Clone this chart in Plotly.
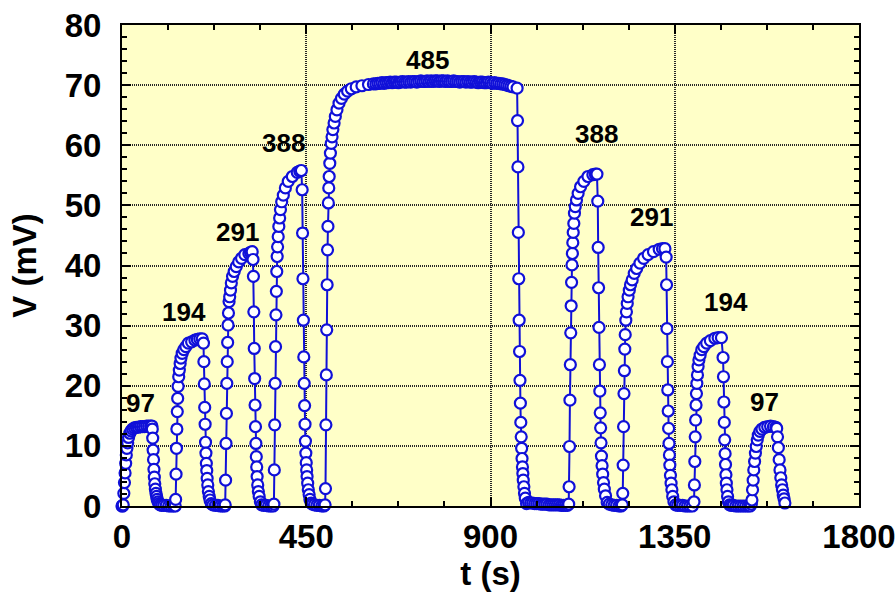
import plotly.graph_objects as go

# ---- data: t (s), V (mV) ----
# pulse 1 (97)
t1 = [0, 1.5, 3, 4.5, 6, 7.5, 9, 10.5, 12, 14, 16, 19, 22, 26, 30, 35, 40, 45, 50, 55, 60, 65, 70, 73,
      74, 75, 76, 77, 78, 79, 80, 81.5, 83, 84.5, 86, 88, 90, 93,
      97, 102, 108, 114, 120, 126, 130]
v1 = [0, 0, 0.2, 2.1, 3.9, 5.5, 7.1, 8.5, 9.6, 10.5, 11.4, 12.1, 12.5, 12.8, 13.0, 13.1, 13.1, 13.2, 13.2, 13.2, 13.3, 13.3, 13.3, 13.3,
      12.8, 11.3, 9.3, 7.7, 6.1, 4.8, 3.7, 2.8, 2.1, 1.6, 1.1, 0.7, 0.4, 0.2,
      0.1, 0.1, 0.1, 0.0, 0.0, 0.0, 0.0]
# pulse 2 (194)
t2 = [131, 132, 133, 134, 135, 136, 137, 138.5, 140, 142, 144, 147, 151, 156, 162, 170, 178, 184, 190, 196,
      199, 200, 201, 202, 203, 204, 205, 206, 207, 208, 209.5, 211, 213, 215, 218,
      222, 228, 234, 240, 246, 251]
v2 = [1.1, 5.3, 9.6, 12.8, 15.7, 17.9, 19.9, 21.5, 22.6, 23.7, 24.6, 25.4, 26.0, 26.5, 27.1, 27.3, 27.6, 27.7, 27.8, 27.8,
      27.1, 24.0, 20.3, 16.4, 13.6, 10.6, 8.8, 7.1, 5.9, 4.6, 3.5, 2.4, 1.6, 1.0, 0.4,
      0.2, 0.1, 0.1, 0.0, 0.0, 0.0]
# pulse 3 (291)
t3 = [252, 253, 254, 255, 256, 257, 258, 259, 260, 261.5, 263, 265, 267, 270, 274, 279, 285, 292, 300, 310, 314, 318,
      320, 321, 322, 323, 324, 325, 326, 327, 328, 329, 330, 331.5, 333, 335, 338, 341,
      346, 352, 358, 364, 369]
v3 = [0.2, 4.3, 10.4, 15.4, 20.4, 24.0, 27.2, 30.1, 32.1, 34.0, 34.8, 35.9, 37.1, 38.2, 39.0, 39.8, 40.6, 41.2, 41.8, 42.0, 42.2, 42.3,
      41.0, 38.2, 32.3, 26.2, 21.2, 16.8, 13.2, 10.4, 8.2, 6.5, 4.9, 3.5, 2.4, 1.6, 0.7, 0.2,
      0.1, 0.1, 0.0, 0.0, 0.0]
# pulse 4 (388)
t4 = [371, 372, 373, 374, 375, 376, 377, 378, 379, 380, 381.5, 383, 385, 387, 390, 394, 399, 406, 416, 428, 434, 438,
      440, 441, 442, 443, 444, 445, 446, 447, 448, 449, 450, 451, 452, 453.5, 455, 457, 459, 462, 465,
      470, 476, 482, 488, 493]
v4 = [0.3, 6.0, 13.5, 20.4, 26.5, 31.8, 35.7, 39.0, 41.5, 43.1, 44.8, 46.5, 47.9, 49.3, 50.6, 51.7, 52.9, 54.0, 54.8, 55.5, 55.7, 55.8,
      52.6, 45.4, 37.8, 30.9, 24.8, 20.4, 16.7, 13.6, 10.8, 8.8, 7.2, 6.0, 4.9, 3.8, 2.7, 1.9, 1.1, 0.5, 0.3,
      0.2, 0.1, 0.1, 0.0, 0.0]
# pulse 5 (485)
t5 = [496, 497, 498, 499, 500, 501, 502, 503, 504, 505, 506, 507.5, 509, 511, 513, 515, 518, 521, 525, 530,
      536, 543, 551, 560, 572, 586, 602, 614,
      620, 625, 630, 635, 640, 645, 650, 655, 660, 665,
      670, 675, 680, 685, 690, 695, 700, 705, 710, 715,
      720, 725, 730, 735, 740, 745, 750, 755, 760, 765,
      770, 775, 780, 785, 790, 795, 800, 805, 810, 815,
      820, 825, 830, 835, 840, 845, 850, 855, 860, 865,
      870, 875, 880, 885, 890, 895, 900, 905, 910, 915,
      920, 925, 930, 935, 940, 945, 950, 955,
      965, 966, 967, 968, 969, 970, 971, 972, 973, 974, 975, 976, 977, 978, 979, 980, 981.5, 983, 985, 988,
      993, 998, 1003, 1008, 1013, 1018, 1023, 1028, 1033, 1038,
      1043, 1048, 1053, 1058, 1063, 1068, 1073, 1078, 1083, 1088]
v5 = [0.2, 2.9, 13.5, 21.8, 29.3, 36.8, 42.6, 46.5, 50.4, 52.9, 54.8, 57.0, 58.7, 60.3, 61.4, 62.6, 63.7, 64.8, 65.9, 67.0,
      67.8, 68.5, 69.0, 69.4, 69.7, 69.9, 70.1, 70.2,
      70.2, 70.3, 70.3, 70.4, 70.3, 70.4, 70.4, 70.5, 70.4, 70.5,
      70.5, 70.4, 70.5, 70.6, 70.5, 70.5, 70.6, 70.5, 70.6, 70.6,
      70.5, 70.6, 70.7, 70.6, 70.6, 70.7, 70.6, 70.7, 70.6, 70.7,
      70.7, 70.6, 70.7, 70.7, 70.6, 70.7, 70.6, 70.6, 70.7, 70.6,
      70.6, 70.5, 70.6, 70.6, 70.5, 70.6, 70.5, 70.5, 70.6, 70.5,
      70.4, 70.5, 70.5, 70.4, 70.4, 70.5, 70.4, 70.3, 70.4, 70.3,
      70.3, 70.2, 70.2, 70.1, 70.0, 69.9, 69.8, 69.7,
      69.5, 64.1, 56.4, 45.5, 37.8, 30.9, 25.7, 20.9, 17.1, 13.9, 11.5, 9.6, 7.9, 6.5, 5.4, 4.3, 3.2, 2.1, 1.3, 0.4,
      0.6, 0.5, 0.5, 0.4, 0.4, 0.4, 0.3, 0.3, 0.3, 0.3,
      0.2, 0.2, 0.2, 0.2, 0.2, 0.2, 0.1, 0.1, 0.1, 0.1]
# pulse 6 (388)
t6 = [1091, 1092, 1093, 1094, 1095, 1096, 1097, 1098, 1099, 1100, 1101, 1102, 1103.5, 1105, 1107, 1110, 1114, 1120, 1128, 1138, 1150, 1156, 1160,
      1162, 1163, 1164, 1165, 1166, 1167, 1168, 1169, 1170, 1171, 1172.5, 1174, 1176, 1178, 1181, 1185,
      1190, 1196, 1202, 1208, 1214, 1219]
v6 = [0.3, 3.2, 9.9, 17.6, 23.5, 28.8, 33.3, 37.2, 40.1, 42.0, 43.8, 45.5, 47.0, 48.7, 49.8, 50.9, 52.0, 53.1, 54.0, 54.8, 55.1, 55.2, 55.2,
      50.7, 43.0, 36.3, 29.7, 23.5, 19.1, 15.5, 13.0, 10.5, 8.3, 6.7, 5.3, 3.9, 2.8, 1.7, 0.6,
      0.3, 0.2, 0.1, 0.1, 0.0, 0.0]
# pulse 7 (291)
t7 = [1222, 1223, 1224, 1225, 1226, 1227, 1228, 1229, 1230.5, 1232, 1234, 1236, 1239, 1242, 1246, 1251, 1257, 1265, 1274, 1285, 1298, 1312, 1320, 1326,
      1329, 1330, 1331, 1332, 1333, 1334, 1335, 1336, 1337, 1338, 1339.5, 1341, 1343, 1345, 1348, 1352,
      1357, 1363, 1369, 1375, 1381, 1387, 1393]
v7 = [0.2, 2.1, 6.8, 13.2, 18.7, 22.5, 26.1, 28.5, 30.9, 32.3, 33.7, 34.8, 35.9, 36.8, 37.6, 38.7, 39.5, 40.4, 41.2, 41.8, 42.3, 42.7, 42.8, 42.8,
      41.4, 36.8, 29.5, 24.0, 19.3, 15.8, 12.9, 10.4, 8.5, 6.8, 5.1, 3.8, 2.7, 1.6, 0.7, 0.2,
      0.1, 0.1, 0.1, 0.0, 0.0, 0.0, 0.0]
# pulse 8 (194)
t8 = [1397, 1398, 1399, 1400, 1401, 1402, 1403, 1404, 1405.5, 1407, 1409, 1412, 1416, 1421, 1428, 1437, 1448, 1456, 1464,
      1468, 1469, 1470, 1471, 1472, 1473, 1474, 1475, 1476, 1477.5, 1479, 1481, 1484, 1488,
      1493, 1499, 1505, 1511, 1517, 1523, 1529, 1534]
v8 = [0.7, 3.5, 7.4, 11.5, 14.3, 16.8, 18.7, 20.4, 21.8, 23.2, 24.3, 25.1, 26.0, 26.5, 27.1, 27.5, 27.9, 28.0, 28.0,
      24.7, 21.5, 17.3, 13.9, 11.0, 8.7, 6.9, 5.2, 3.8, 2.7, 1.6, 0.7, 0.2, 0.1,
      0.1, 0.0, 0.0, 0.0, 0.0, 0.0, 0.0, 0.0]
# pulse 9 (97)
t9 = [1537, 1538.5, 1540, 1541.5, 1543, 1545, 1547, 1549, 1551.5, 1554, 1558, 1563, 1570, 1577, 1584, 1591, 1597,
      1599, 1601, 1603, 1605, 1607, 1609, 1611, 1613, 1615, 1617, 1619]
v9 = [0.3, 1.0, 2.7, 4.3, 6.0, 7.4, 8.8, 9.9, 11.0, 11.8, 12.4, 12.8, 13.1, 13.2, 13.3, 13.2, 13.1,
      12.9, 11.5, 9.7, 7.7, 6.0, 4.7, 3.5, 2.7, 1.8, 1.2, 0.5]

# pulse labels
label_text = ["97", "194", "291", "388", "485", "388", "291", "194", "97"]
label_t = [45, 151, 281, 394, 746, 1159, 1293, 1474, 1568]
label_v = [17.1, 32.3, 45.6, 60.4, 74.2, 61.9, 48.1, 33.9, 17.3]

x_ticks = [0, 450, 900, 1350, 1800]
y_ticks = [0, 10, 20, 30, 40, 50, 60, 70, 80]

t_all = t1 + t2 + t3 + t4 + t5 + t6 + t7 + t8 + t9
v_all = v1 + v2 + v3 + v4 + v5 + v6 + v7 + v8 + v9

BLUE = "#1010D8"
FONT = "Liberation Sans, Arial, sans-serif"

fig = go.Figure(go.Scatter(
    x=t_all, y=v_all, mode="lines+markers",
    line=dict(color=BLUE, width=2),
    marker=dict(size=11, color="white", line=dict(color=BLUE, width=2.2)),
    cliponaxis=False, showlegend=False,
))

for txt, tx, vy in zip(label_text, label_t, label_v):
    fig.add_annotation(x=tx, y=vy, text=txt, showarrow=False,
                       font=dict(family=FONT, size=26, color="black", weight="bold"))

axis_common = dict(
    showline=True, linecolor="black", linewidth=2, mirror="allticks",
    ticks="inside", ticklen=9, tickwidth=1.5, tickcolor="black",
    showgrid=True, gridcolor="#262626", griddash="1px,1px", gridwidth=2,
    zeroline=False, automargin=False, ticklabeloverflow="allow",
    tickfont=dict(family=FONT, size=33, color="black", weight="bold"),
)

fig.update_layout(
    width=895, height=596,
    margin=dict(l=122, r=36, t=25, b=90),
    paper_bgcolor="white", plot_bgcolor="#FFFFC8",
    xaxis=dict(range=[0, 1800], tickvals=x_ticks,
               minor=dict(ticks="inside", dtick=112.5, ticklen=5, tickcolor="black", showgrid=False),
               title=dict(text="t (s)", standoff=4,
                          font=dict(family=FONT, size=33, color="black", weight="bold")),
               **axis_common),
    yaxis=dict(range=[0, 80], tickvals=y_ticks, ticklabelstandoff=12,
               minor=dict(ticks="inside", dtick=2, ticklen=5, tickcolor="black", showgrid=False),
               title=dict(text="V (mV)", standoff=18,
                          font=dict(family=FONT, size=33, color="black", weight="bold")),
               **axis_common),
)

# remove the default page margin so the figure sits at the window's corner
fig.write_html("out.html",
               config={"displayModeBar": False},
               post_script="document.body.style.margin='0';document.documentElement.style.overflow='hidden';")
